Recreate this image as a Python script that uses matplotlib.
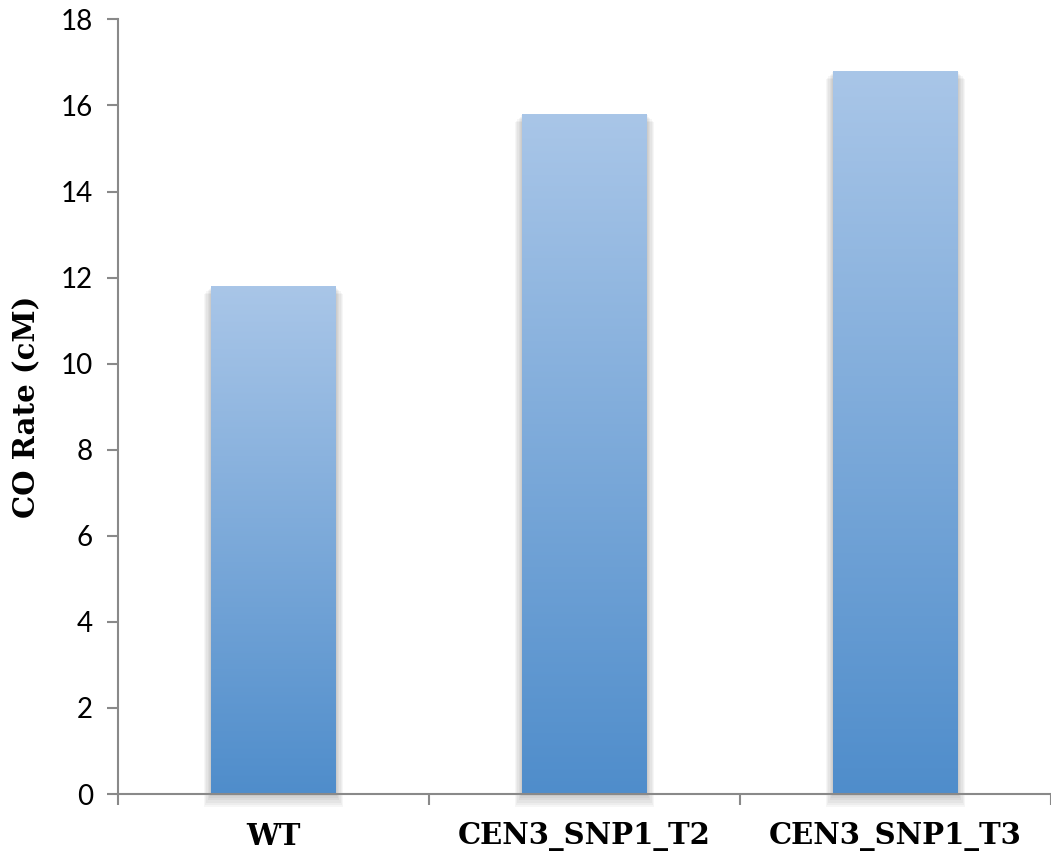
import numpy as np
import matplotlib.pyplot as plt
from matplotlib.colors import LinearSegmentedColormap
from matplotlib.patches import Rectangle

# CO rate per line (cM)
lines = ["WT", "CEN3_SNP1_T2", "CEN3_SNP1_T3"]
co_rate = [11.8, 15.8, 16.8]
y_ticks = [0, 2, 4, 6, 8, 10, 12, 14, 16, 18]

fig = plt.figure(figsize=(10.51, 8.55), dpi=100)
ax = fig.add_axes([0.1123, 0.0713, 0.8877, 0.906])

x = np.arange(len(lines))
bar_w = 0.4
bars = ax.bar(x, co_rate, width=bar_w, color="none", edgecolor="none", zorder=3)

# vertical light-to-dark blue fill, soft shadow behind each bar
cmap = LinearSegmentedColormap.from_list("blue_grad", ["#4f8dcb", "#a9c6e8"])
grad = np.linspace(0, 1, 256).reshape(-1, 1)
for bar, val in zip(bars, co_rate):
    x0 = bar.get_x()
    for k in range(6):
        pad = 0.004 * (k + 1)
        ax.add_patch(Rectangle((x0 - pad, -0.05 * (k + 1)), bar_w + 2 * pad,
                               val + 0.02 * (k + 1),
                               facecolor="#000000", alpha=0.035,
                               edgecolor="none", zorder=2, clip_on=False))
    im = ax.imshow(grad, cmap=cmap, aspect="auto", origin="lower",
                   extent=[x0, x0 + bar_w, 0, val], zorder=3)
    im.set_clip_path(bar)

ax.set_xlim(-0.5, len(lines) - 0.5)
ax.set_ylim(0, 18)
ax.set_yticks(y_ticks)
ax.set_xticks(np.arange(len(lines) + 1) - 0.5, minor=True)
ax.set_xticks(x)
ax.set_xticklabels(lines, fontfamily="DejaVu Serif", fontweight="bold",
                   fontsize=21)
ax.tick_params(axis="x", which="major", length=0, pad=20)
ax.tick_params(axis="x", which="minor", length=8, width=1.5, color="#898989")
ax.tick_params(axis="y", length=8, width=1.5, color="#898989",
               labelsize=20, pad=10)
for lab in ax.get_yticklabels():
    lab.set_fontfamily("Lato")

for side in ["top", "right"]:
    ax.spines[side].set_visible(False)
for side in ["left", "bottom"]:
    ax.spines[side].set_color("#898989")
    ax.spines[side].set_linewidth(1.5)
    ax.spines[side].set_zorder(4)

ax.set_ylabel("CO Rate (cM)", fontfamily="DejaVu Serif", fontweight="bold",
              fontsize=21, labelpad=14)

fig.savefig("out.png", dpi=100)
